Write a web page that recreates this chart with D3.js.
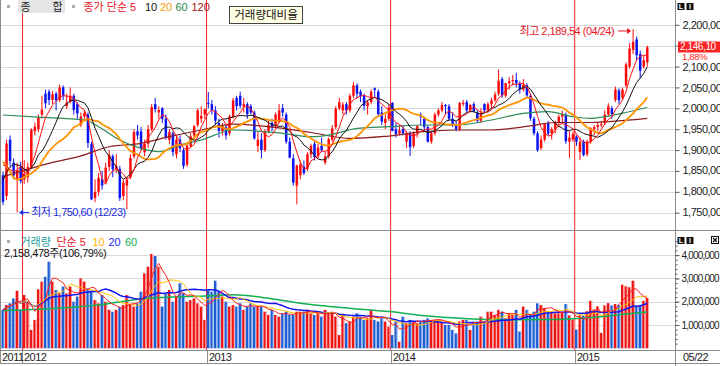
<!DOCTYPE html>
<html>
<head>
<meta charset="utf-8">
<script src="https://cdnjs.cloudflare.com/ajax/libs/d3/7.8.5/d3.min.js"></script>
<style>
  body { margin: 0; background: #fff; }
  svg { display: block; font-family: "Liberation Sans", "Noto Sans CJK KR", sans-serif; }
</style>
</head>
<body>
<svg id="chart" width="720" height="366"></svg>
<script>
(function() {

  'use strict';

  /**
   * weekly candles
   *
   * @description 종합 weekly bars, first week ending 2011-11-25, last 2015-05-22
   */
  var firstWeek = new Date(2011, 10, 25);

  var opens = [
    1840, 1790, 1925, 1870, 1829, 1860, 1830, 1835, 1862, 1945,
    1950, 1985, 2035, 2040, 2020, 2035, 2020, 2050, 2005, 2015,
    2030, 2010, 1960, 1980, 1985, 1915, 1785, 1800, 1830, 1825,
    1860, 1885, 1855, 1855, 1790, 1815, 1835, 1885, 1945, 1945,
    1895, 1915, 1950, 2010, 1990, 2000, 1975, 1925, 1940, 1890,
    1925, 1900, 1865, 1910, 1935, 1960, 1975, 1985, 2013, 2010,
    1995, 1965, 1945, 1955, 1940, 1980, 2025, 2030, 2005, 2010,
    2005, 1990, 1910, 1925, 1900, 1945, 1965, 1960, 1970, 2000,
    1985, 1920, 1880, 1815, 1840, 1860, 1855, 1890, 1915, 1885,
    1910, 1870, 1885, 1925, 1955, 2000, 1995, 2010, 1995, 2030,
    2055, 2040, 2030, 2005, 2015, 2048, 2040, 1990, 1965, 1975,
    2013, 1950, 1940, 1950, 1920, 1940, 1910, 1940, 1985, 1975,
    1955, 1920, 1940, 1985, 1995, 2008, 2005, 1975, 1960, 1950,
    2010, 2015, 1995, 2010, 1990, 1970, 2010, 1995, 2010, 2020,
    2035, 2070, 2030, 2060, 2065, 2068, 2060, 2045, 2055, 2030,
    1975, 1940, 1905, 1925, 1965, 1940, 1950, 1965, 1980, 1985,
    1920, 1925, 1932, 1895, 1920, 1890, 1920, 1950, 1955, 1960,
    1965, 1985, 2000, 2020, 2043, 2025, 2055, 2100, 2140, 2165,
    2130, 2100, 2110
  ];

  var highs = [
    1848, 1925, 1935, 1880, 1870, 1872, 1876, 1870, 1952, 1966,
    1985, 2030, 2045, 2045, 2042, 2040, 2057, 2055, 2035, 2050,
    2035, 2015, 1990, 1995, 1990, 1920, 1830, 1845, 1850, 1870,
    1900, 1890, 1890, 1862, 1830, 1835, 1890, 1950, 1960, 1955,
    1925, 1960, 2010, 2025, 2005, 2003, 1985, 1950, 1945, 1935,
    1935, 1905, 1915, 1940, 1960, 2000, 2005, 2000, 2039, 2020,
    2005, 1975, 1965, 1960, 1985, 2025, 2030, 2040, 2025, 2015,
    2010, 1995, 1945, 1940, 1950, 1970, 1975, 1990, 2010, 2010,
    1990, 1930, 1890, 1865, 1875, 1875, 1895, 1915, 1925, 1915,
    1930, 1895, 1930, 1960, 2005, 2025, 2015, 2015, 2035, 2063,
    2060, 2045, 2035, 2020, 2045, 2050, 2045, 2005, 1985, 2010,
    2015, 1965, 1960, 1960, 1945, 1945, 1945, 1960, 1990, 1980,
    1960, 1945, 1990, 2000, 2015, 2010, 2010, 1990, 1970, 2015,
    2020, 2020, 2010, 2015, 1995, 2000, 2012, 2015, 2025, 2040,
    2093, 2075, 2062, 2075, 2080, 2085, 2065, 2070, 2060, 2035,
    1980, 1945, 1935, 1965, 1970, 1955, 1970, 1985, 1995, 1990,
    1945, 1945, 1935, 1930, 1925, 1925, 1955, 1960, 1965, 1970,
    1995, 2012, 2005, 2052, 2048, 2050, 2110, 2156, 2189.54, 2172,
    2138, 2125, 2150
  ];

  var lows = [
    1768, 1780, 1860, 1830, 1750.6, 1820, 1819, 1822, 1856, 1935,
    1943, 1975, 2000, 2008, 2010, 1995, 2015, 2020, 1998, 2012,
    1985, 1975, 1955, 1970, 1905, 1780, 1775, 1790, 1805, 1820,
    1850, 1835, 1845, 1778, 1780, 1758, 1830, 1880, 1925, 1900,
    1885, 1905, 1945, 1990, 1975, 1965, 1925, 1915, 1885, 1880,
    1895, 1855, 1860, 1905, 1925, 1955, 1965, 1975, 2000, 1985,
    1960, 1930, 1935, 1925, 1935, 1975, 1995, 2000, 1990, 1975,
    1985, 1925, 1895, 1880, 1895, 1940, 1945, 1955, 1965, 1980,
    1915, 1880, 1815, 1770, 1830, 1840, 1850, 1880, 1875, 1880,
    1895, 1865, 1880, 1920, 1950, 1995, 1985, 1985, 1990, 2025,
    2025, 2015, 1995, 1985, 2010, 2025, 1980, 1960, 1950, 1970,
    1945, 1930, 1935, 1935, 1905, 1886, 1905, 1930, 1960, 1945,
    1918, 1915, 1935, 1980, 1990, 1985, 1970, 1955, 1945, 1945,
    2005, 1990, 1990, 1990, 1965, 1965, 1990, 1990, 2000, 2015,
    2030, 2025, 2025, 2045, 2055, 2050, 2035, 2040, 2025, 1970,
    1935, 1896, 1900, 1920, 1935, 1925, 1940, 1955, 1965, 1915,
    1881, 1920, 1910, 1876, 1885, 1885, 1915, 1935, 1945, 1955,
    1960, 1980, 1975, 2015, 2010, 2020, 2050, 2095, 2130, 2115,
    2072, 2095, 2100
  ];

  var closes = [
    1776, 1916, 1874, 1839, 1852, 1826, 1843, 1859, 1949, 1956,
    1978, 1997, 2012, 2020, 2034, 2019, 2050, 2029, 2014, 2030,
    1996, 1988, 1980, 1989, 1917, 1782, 1800, 1834, 1815, 1858,
    1889, 1854, 1862, 1785, 1822, 1829, 1881, 1943, 1935, 1905,
    1915, 1950, 2003, 1998, 1996, 1975, 1930, 1943, 1895, 1925,
    1904, 1862, 1911, 1933, 1957, 1995, 1982, 1997, 2011, 1995,
    1970, 1946, 1957, 1935, 1981, 2019, 2005, 2006, 2010, 1986,
    1990, 1928, 1925, 1900, 1945, 1960, 1955, 1985, 1995, 1990,
    1920, 1882, 1822, 1863, 1865, 1845, 1890, 1910, 1883, 1906,
    1900, 1885, 1926, 1952, 1999, 2015, 2009, 1995, 2030, 2055,
    2035, 2030, 2006, 2014, 2040, 2044, 1986, 1968, 1975, 2002,
    1946, 1938, 1947, 1940, 1941, 1907, 1940, 1957, 1980, 1955,
    1920, 1940, 1985, 1995, 2008, 2005, 1975, 1960, 1950, 2013,
    2013, 1995, 2008, 1993, 1970, 1988, 1995, 2010, 2019, 2033,
    2066, 2031, 2060, 2065, 2068, 2060, 2045, 2056, 2031, 1976,
    1940, 1900, 1925, 1964, 1939, 1950, 1965, 1980, 1986, 1921,
    1930, 1938, 1920, 1920, 1888, 1920, 1952, 1955, 1960, 1962,
    1985, 2005, 1986, 2045, 2019, 2045, 2105, 2143, 2159, 2127,
    2090, 2115, 2146.1
  ];

  var volumes = [
    1650000, 1860000, 1930000, 2140000, 2470000, 1650000, 2290000, 2000000, 790000, 1220000,
    2530000, 2860000, 3070000, 3720000, 2860000, 2500000, 2360000, 2650000, 2360000, 2650000,
    2000000, 2220000, 3000000, 2860000, 2570000, 2430000, 2070000, 1930000, 2290000, 2000000,
    1650000, 1570000, 1650000, 1790000, 1860000, 2290000, 1860000, 1790000, 1930000, 2430000,
    3220000, 3500000, 4050000, 3960000, 3500000, 1790000, 2360000, 2500000, 2000000, 2220000,
    2790000, 2360000, 2000000, 2070000, 2140000, 1930000, 1790000, 1220000, 2500000, 2430000,
    2900000, 2430000, 2220000, 2000000, 1790000, 1860000, 1790000, 1930000, 1650000, 1790000,
    1930000, 1790000, 1790000, 1790000, 1570000, 1430000, 1650000, 1430000, 1360000, 1500000,
    1570000, 1430000, 1430000, 1570000, 1570000, 1570000, 1650000, 1500000, 1430000, 1500000,
    1360000, 1650000, 1500000, 1570000, 1360000, 570000, 1430000, 1080000, 1150000, 1360000,
    1500000, 1360000, 1220000, 1290000, 1650000, 1220000, 1150000, 1360000, 1150000, 930000,
    570000, 1150000, 280000, 1360000, 1080000, 1220000, 1150000, 1080000, 1150000, 1220000,
    1290000, 1220000, 1220000, 1220000, 1150000, 1000000, 1000000, 790000, 640000, 1150000,
    1220000, 1220000, 790000, 1150000, 1150000, 1360000, 1150000, 1570000, 1570000, 1430000,
    1650000, 1570000, 1290000, 1500000, 1430000, 1650000, 720000, 1790000, 1650000, 1430000,
    1570000, 1930000, 1860000, 1720000, 1570000, 1570000, 1500000, 1500000, 1520000, 1900000,
    1410000, 1230000, 800000, 1410000, 1410000, 1590000, 2040000, 1660000, 1800000, 660000,
    1840000, 1940000, 1840000, 1900000, 1870000, 2730000, 2660000, 2620000, 2900000, 1800000,
    1840000, 2040000, 2158478
  ];

  // closes of the 19 weeks before the first bar, so the 5/10/20 averages start full
  var priorCloses = [
    2145, 2132, 2133, 1943, 1793, 1745, 1776, 1867, 1812, 1839,
    1700, 1770, 1759, 1879, 1838, 1929, 1918, 1860, 1839
  ];

  // long averages (week number, value)
  var ma60Week = [0, 10, 23, 27, 33, 39, 44, 50, 56, 65, 79, 87, 92, 100, 109, 119, 128, 138, 147, 154, 161, 166, 170, 176, 182];
  var ma60Value = [1984, 1979, 1972, 1956, 1924, 1904, 1896, 1912, 1924, 1948, 1940, 1932, 1936, 1952, 1956, 1960, 1960, 1972, 1988, 1992, 1980, 1976, 1980, 1990, 2002];
  var ma120Week = [0, 13, 22, 30, 39, 47, 56, 65, 75, 87, 98, 108, 119, 128, 138, 149, 156, 166, 171, 182];
  var ma120Value = [1836, 1868, 1886, 1908, 1916, 1932, 1948, 1962, 1956, 1942, 1928, 1933, 1944, 1948, 1948, 1958, 1966, 1966, 1968, 1976];
  var volMa60Week = [0, 10, 27, 41, 57, 65, 75, 84, 93, 101, 109, 120, 129, 143, 157, 167, 176, 182];
  var volMa60Value = [1620000, 1680000, 1860000, 2150000, 2240000, 2300000, 2150000, 1930000, 1780000, 1680000, 1580000, 1390000, 1290000, 1220000, 1240000, 1330000, 1470000, 1560000];

  var priceTicks = [1750, 1800, 1850, 1900, 1950, 2000, 2050, 2100, 2150, 2200];
  var volumeTicks = [1000000, 2000000, 3000000, 4000000];
  var lastChangePct = 1.88;
  var lastVolumeRatio = 106.79;

  /**
   * layout
   */
  var svg = d3.select('#chart');
  var plotRight = 675;
  var priceBottom = 230;
  var volBottom = 350;
  var UP = '#ff0a0a';
  var DOWN = '#0a14f0';
  var n = closes.length;
  var dates = d3.range(n).map(function(i) { return d3.timeWeek.offset(firstWeek, i); });

  var x = d3.scaleLinear().domain([0, n - 1]).range([3, 3 + (n - 1) * 3.54]);
  var yPrice = d3.scaleLinear().domain([1750, 2200]).range([212.7, 24.8]);
  var yVol = d3.scaleLinear().domain([0, 4000000]).range([348.3, 255.1]);

  var fmtPrice = function(v) { return d3.format(',.2f')(v).replace('.', ','); };
  var fmtVol = d3.format(',');

  var sma = function(values, len, prior) {
    var all = prior.concat(values);
    return values.map(function(_, i) {
      var j = i + prior.length;
      return d3.mean(all.slice(Math.max(0, j - len + 1), j + 1));
    });
  };

  svg.append('rect').attr('width', 720).attr('height', 366).attr('fill', '#fff');

  var defs = svg.append('defs');
  defs.append('clipPath').attr('id', 'clipPrice')
    .append('rect').attr('x', 1).attr('y', 0).attr('width', plotRight - 1).attr('height', priceBottom);
  defs.append('clipPath').attr('id', 'clipVol')
    .append('rect').attr('x', 1).attr('y', priceBottom).attr('width', plotRight - 1).attr('height', volBottom - priceBottom);

  /**
   * grid
   */
  svg.append('g').selectAll('line').data(priceTicks).join('line')
    .attr('x1', 1).attr('x2', plotRight)
    .attr('y1', function(d) { return Math.round(yPrice(d)) + 0.5; })
    .attr('y2', function(d) { return Math.round(yPrice(d)) + 0.5; })
    .attr('stroke', '#dadada');

  svg.append('g').selectAll('line').data(volumeTicks).join('line')
    .attr('x1', 1).attr('x2', plotRight)
    .attr('y1', function(d) { return Math.round(yVol(d)) + 0.5; })
    .attr('y2', function(d) { return Math.round(yVol(d)) + 0.5; })
    .attr('stroke', '#dadada');

  /**
   * year separators
   */
  var yearStarts = [];
  dates.forEach(function(d, i) {
    if (i === 0 || d.getFullYear() !== dates[i - 1].getFullYear()) {
      yearStarts.push({ year: d.getFullYear(), x: i === 0 ? 0 : x(i - 0.5) });
    }
  });

  svg.append('g').selectAll('line').data(yearStarts.slice(1)).join('line')
    .attr('x1', function(d) { return d.x; }).attr('x2', function(d) { return d.x; })
    .attr('y1', 0).attr('y2', volBottom)
    .attr('stroke', '#ee2020').attr('stroke-width', 1);

  /**
   * candles
   */
  var candles = svg.append('g').attr('clip-path', 'url(#clipPrice)')
    .selectAll('g').data(d3.range(n)).join('g');

  candles.append('line')
    .attr('x1', function(i) { return x(i); }).attr('x2', function(i) { return x(i); })
    .attr('y1', function(i) { return yPrice(highs[i]); })
    .attr('y2', function(i) { return yPrice(lows[i]); })
    .attr('stroke', function(i) { return closes[i] >= opens[i] ? UP : DOWN; })
    .attr('stroke-width', 1);

  candles.append('rect')
    .attr('x', function(i) { return x(i) - 1.25; })
    .attr('width', 2.5)
    .attr('y', function(i) { return yPrice(Math.max(opens[i], closes[i])); })
    .attr('height', function(i) { return Math.max(1, Math.abs(yPrice(opens[i]) - yPrice(closes[i]))); })
    .attr('fill', function(i) { return closes[i] >= opens[i] ? UP : DOWN; });

  /**
   * price averages
   */
  var priceLine = d3.line()
    .x(function(d) { return x(d[0]); })
    .y(function(d) { return yPrice(d[1]); });
  var smoothPrice = d3.line()
    .x(function(d) { return x(d[0]); })
    .y(function(d) { return yPrice(d[1]); })
    .curve(d3.curveMonotoneX);

  var priceMas = svg.append('g').attr('clip-path', 'url(#clipPrice)').attr('fill', 'none');

  priceMas.append('path')
    .attr('d', smoothPrice(d3.zip(ma120Week, ma120Value)))
    .attr('stroke', '#8e1c1c').attr('stroke-width', 1.2);
  priceMas.append('path')
    .attr('d', smoothPrice(d3.zip(ma60Week, ma60Value)))
    .attr('stroke', '#2e8b57').attr('stroke-width', 1.2);

  [[20, '#ff9400', 1.8], [10, '#111', 1], [5, '#ff1010', 1]].forEach(function(m) {
    var vals = sma(closes, m[0], priorCloses);
    priceMas.append('path')
      .attr('d', priceLine(vals.map(function(v, i) { return [i, v]; })))
      .attr('stroke', m[1]).attr('stroke-width', m[2]);
  });

  /**
   * volume bars
   */
  var bars = svg.append('g').attr('clip-path', 'url(#clipVol)')
    .selectAll('g').data(d3.range(n)).join('g');

  bars.append('rect')
    .attr('x', function(i) { return x(i) - 1.5; })
    .attr('width', 2.3)
    .attr('y', function(i) { return yVol(volumes[i]); })
    .attr('height', function(i) { return yVol(0) - yVol(volumes[i]); })
    .attr('fill', function(i) { return closes[i] >= opens[i] ? '#ee1414' : '#1e5ed2'; });

  bars.append('rect')
    .attr('x', function(i) { return x(i) + 0.8; })
    .attr('width', 0.9)
    .attr('y', function(i) { return yVol(volumes[i]); })
    .attr('height', function(i) { return yVol(0) - yVol(volumes[i]); })
    .attr('fill', function(i) { return closes[i] >= opens[i] ? '#f89a9a' : '#8fb2ee'; });

  var volLine = d3.line()
    .x(function(d) { return x(d[0]); })
    .y(function(d) { return yVol(d[1]); });
  var smoothVol = d3.line()
    .x(function(d) { return x(d[0]); })
    .y(function(d) { return yVol(d[1]); })
    .curve(d3.curveMonotoneX);

  var volMas = svg.append('g').attr('clip-path', 'url(#clipVol)').attr('fill', 'none');

  volMas.append('path')
    .attr('d', smoothVol(d3.zip(volMa60Week, volMa60Value)))
    .attr('stroke', '#12b054').attr('stroke-width', 1.5);

  [[20, '#1414ee', 1.5], [10, '#ffbf00', 1], [5, '#ff2020', 1]].forEach(function(m) {
    var vals = sma(volumes, m[0], []);
    volMas.append('path')
      .attr('d', volLine(vals.map(function(v, i) { return [i, v]; })))
      .attr('stroke', m[1]).attr('stroke-width', m[2]);
  });

  /**
   * frame
   */
  var frame = svg.append('g').attr('stroke', '#8c8c8c').attr('stroke-width', 1);
  frame.append('line').attr('x1', 0.5).attr('x2', 0.5).attr('y1', 0).attr('y2', 364);
  frame.append('line').attr('x1', plotRight + 0.5).attr('x2', plotRight + 0.5).attr('y1', 0).attr('y2', 366);
  frame.append('line').attr('x1', 0).attr('x2', 720).attr('y1', priceBottom + 0.5).attr('y2', priceBottom + 0.5);
  frame.append('line').attr('x1', 0).attr('x2', 720).attr('y1', volBottom + 0.5).attr('y2', volBottom + 0.5);
  frame.append('line').attr('x1', 0).attr('x2', 720).attr('y1', 363.5).attr('y2', 363.5);

  /**
   * axes
   */
  var lastBoxY = yPrice(closes[n - 1]);

  var styleAxis = function(g) {
    g.select('.domain').remove();
    g.selectAll('.tick line').attr('stroke', '#555');
    g.selectAll('.tick text')
      .attr('fill', '#222')
      .attr('font-size', 11)
      .attr('letter-spacing', -0.5)
      .attr('font-family', '"Liberation Sans", sans-serif');
  };

  // the label under the last-price box is hidden, as on the original
  svg.append('g')
    .attr('transform', 'translate(' + (plotRight + 0.5) + ',0)')
    .call(d3.axisRight(yPrice).tickValues(priceTicks).tickSize(4).tickPadding(3)
      .tickFormat(function(d) { return Math.abs(yPrice(d) - lastBoxY) < 7 ? '' : fmtPrice(d); }))
    .call(styleAxis)
    .selectAll('.tick text').attr('y', function(d) { return d >= 2050 ? 0.5 : -0.5; });

  svg.append('g')
    .attr('transform', 'translate(' + (plotRight + 0.5) + ',0)')
    .call(d3.axisRight(yVol).tickValues(d3.range(200000, 4600001, 200000)).tickSize(2).tickFormat(''))
    .call(styleAxis);

  svg.append('g')
    .attr('transform', 'translate(' + (plotRight + 0.5) + ',0)')
    .call(d3.axisRight(yVol).tickValues(volumeTicks).tickSize(4).tickPadding(2).tickFormat(fmtVol))
    .call(styleAxis)
    .selectAll('.tick text').attr('font-size', 10).attr('letter-spacing', -0.8);

  /**
   * date row
   */
  var dateRow = svg.append('g');
  dateRow.selectAll('line').data(yearStarts.slice(1)).join('line')
    .attr('x1', function(d) { return Math.round(d.x) + 0.5; })
    .attr('x2', function(d) { return Math.round(d.x) + 0.5; })
    .attr('y1', volBottom).attr('y2', 363)
    .attr('stroke', '#8c8c8c');
  dateRow.selectAll('text').data(yearStarts).join('text')
    .attr('x', function(d) { return Math.round(d.x) + 2; })
    .attr('y', 357)
    .attr('dominant-baseline', 'central')
    .attr('font-size', 11).attr('letter-spacing', -0.5).attr('fill', '#222')
    .text(function(d) { return d.year; });
  dateRow.append('text')
    .attr('x', 683).attr('y', 357)
    .attr('dominant-baseline', 'central')
    .attr('font-size', 11).attr('letter-spacing', -0.5).attr('fill', '#222')
    .text(d3.timeFormat('%m/%d')(dates[n - 1]));

  /**
   * last price box
   */
  svg.append('rect').attr('x', 678).attr('y', 41.5).attr('width', 42).attr('height', 11).attr('fill', '#ff2424');
  svg.append('text')
    .attr('x', 680).attr('y', 46.6).attr('dominant-baseline', 'central')
    .attr('font-size', 10).attr('letter-spacing', -0.4).attr('fill', '#fff')
    .text(fmtPrice(closes[n - 1]));
  svg.append('text')
    .attr('x', 682).attr('y', 56.3).attr('dominant-baseline', 'central')
    .attr('font-size', 9.5).attr('letter-spacing', -0.3).attr('fill', '#ff2020')
    .text(fmtPrice(lastChangePct) + '%');

  /**
   * high / low marks
   */
  var hiIdx = d3.maxIndex(highs);
  var loIdx = d3.minIndex(lows);
  var hiX = x(hiIdx);
  var hiY = yPrice(highs[hiIdx]) + 1.8;
  var loX = x(loIdx);
  var loY = yPrice(lows[loIdx]);

  svg.append('text')
    .attr('x', hiX - 19).attr('y', hiY).attr('text-anchor', 'end').attr('dominant-baseline', 'central')
    .attr('font-size', 11).attr('letter-spacing', -0.5).attr('fill', '#e8141e')
    .text('최고 ' + fmtPrice(highs[hiIdx]) + ' (' + d3.timeFormat('%m/%d')(dates[hiIdx]) + ')');
  svg.append('line')
    .attr('x1', hiX - 15).attr('x2', hiX - 4).attr('y1', hiY).attr('y2', hiY)
    .attr('stroke', '#e8141e');
  svg.append('path')
    .attr('d', 'M' + (hiX - 2) + ',' + hiY + 'l-4,-3v6z')
    .attr('fill', '#e8141e');

  svg.append('path')
    .attr('d', 'M' + (loX + 2) + ',' + loY + 'l4,-3v6z')
    .attr('fill', '#1428e0');
  svg.append('line')
    .attr('x1', loX + 4).attr('x2', loX + 12).attr('y1', loY).attr('y2', loY)
    .attr('stroke', '#1428e0');
  svg.append('text')
    .attr('x', loX + 14).attr('y', loY).attr('dominant-baseline', 'central')
    .attr('font-size', 11).attr('letter-spacing', -0.5).attr('fill', '#1428e0')
    .text('최저 ' + fmtPrice(lows[loIdx]) + ' (' + d3.timeFormat('%m/%d')(dates[loIdx]) + ')');

  /**
   * legends
   */
  var legendText = function(g, tx, ty, str, color) {
    return g.append('text')
      .attr('x', tx).attr('y', ty).attr('dominant-baseline', 'central')
      .attr('font-size', 11).attr('fill', color).text(str);
  };

  var top = svg.append('g');
  top.append('rect').attr('x', 7).attr('y', 5).attr('width', 3).attr('height', 3).attr('fill', '#aaa');
  top.append('rect').attr('x', 18).attr('y', 0).attr('width', 47).attr('height', 13).attr('fill', '#e6e6e6');
  legendText(top, 20.5, 6.5, '종', '#222');
  legendText(top, 52.5, 6.5, '합', '#222');
  top.append('rect').attr('x', 72).attr('y', 5).attr('width', 3).attr('height', 3).attr('fill', '#aaa');
  legendText(top, 83.5, 7, '종가 단순 5', '#e8141e');
  legendText(top, 145, 7, '10', '#111');
  legendText(top, 160, 7, '20', '#f39800');
  legendText(top, 175.5, 7, '60', '#1f8a4c');
  legendText(top, 191.5, 7, '120', '#a01414');

  top.append('rect').attr('x', 229.5).attr('y', 6.5).attr('width', 73).attr('height', 17)
    .attr('fill', '#ffffe4').attr('stroke', '#444');
  legendText(top, 266, 15.2, '거래량대비율', '#111').attr('text-anchor', 'middle').attr('font-size', 11.5);

  var bottom = svg.append('g');
  bottom.append('rect').attr('x', 7).attr('y', 240).attr('width', 3).attr('height', 3).attr('fill', '#aaa');
  legendText(bottom, 20.5, 241.5, '거래량', '#1a9e9e');
  legendText(bottom, 56.5, 241.5, '단순 5', '#e8141e');
  legendText(bottom, 92.5, 241.5, '10', '#ffb400');
  legendText(bottom, 108.5, 241.5, '20', '#1428ee');
  legendText(bottom, 125, 241.5, '60', '#12b054');
  legendText(bottom, 4, 252.5, fmtVol(volumes[n - 1]) + '주(' + fmtPrice(lastVolumeRatio) + '%)', '#111')
    .attr('letter-spacing', -0.4);

  /**
   * panel buttons
   */
  var button = function(bx, by, label) {
    svg.append('rect').attr('x', bx).attr('y', by).attr('width', 7).attr('height', 7).attr('fill', '#111');
    svg.append('text').attr('x', bx + 3.5).attr('y', by + 3.8)
      .attr('text-anchor', 'middle').attr('dominant-baseline', 'central')
      .attr('font-size', 7).attr('font-weight', 'bold').attr('fill', '#fff').text(label);
  };
  button(677.5, 3, 'L');
  button(686.5, 3, 'I');
  button(677.5, 237, 'L');
  button(686.5, 237, 'I');
  svg.append('rect').attr('x', 711.5).attr('y', 236.5).attr('width', 7).attr('height', 7)
    .attr('fill', '#fff').attr('stroke', '#111');
  svg.append('path').attr('d', 'M713,238L717,242M717,238L713,242').attr('stroke', '#111').attr('stroke-width', 1.2);

})();
</script>
</body>
</html>
